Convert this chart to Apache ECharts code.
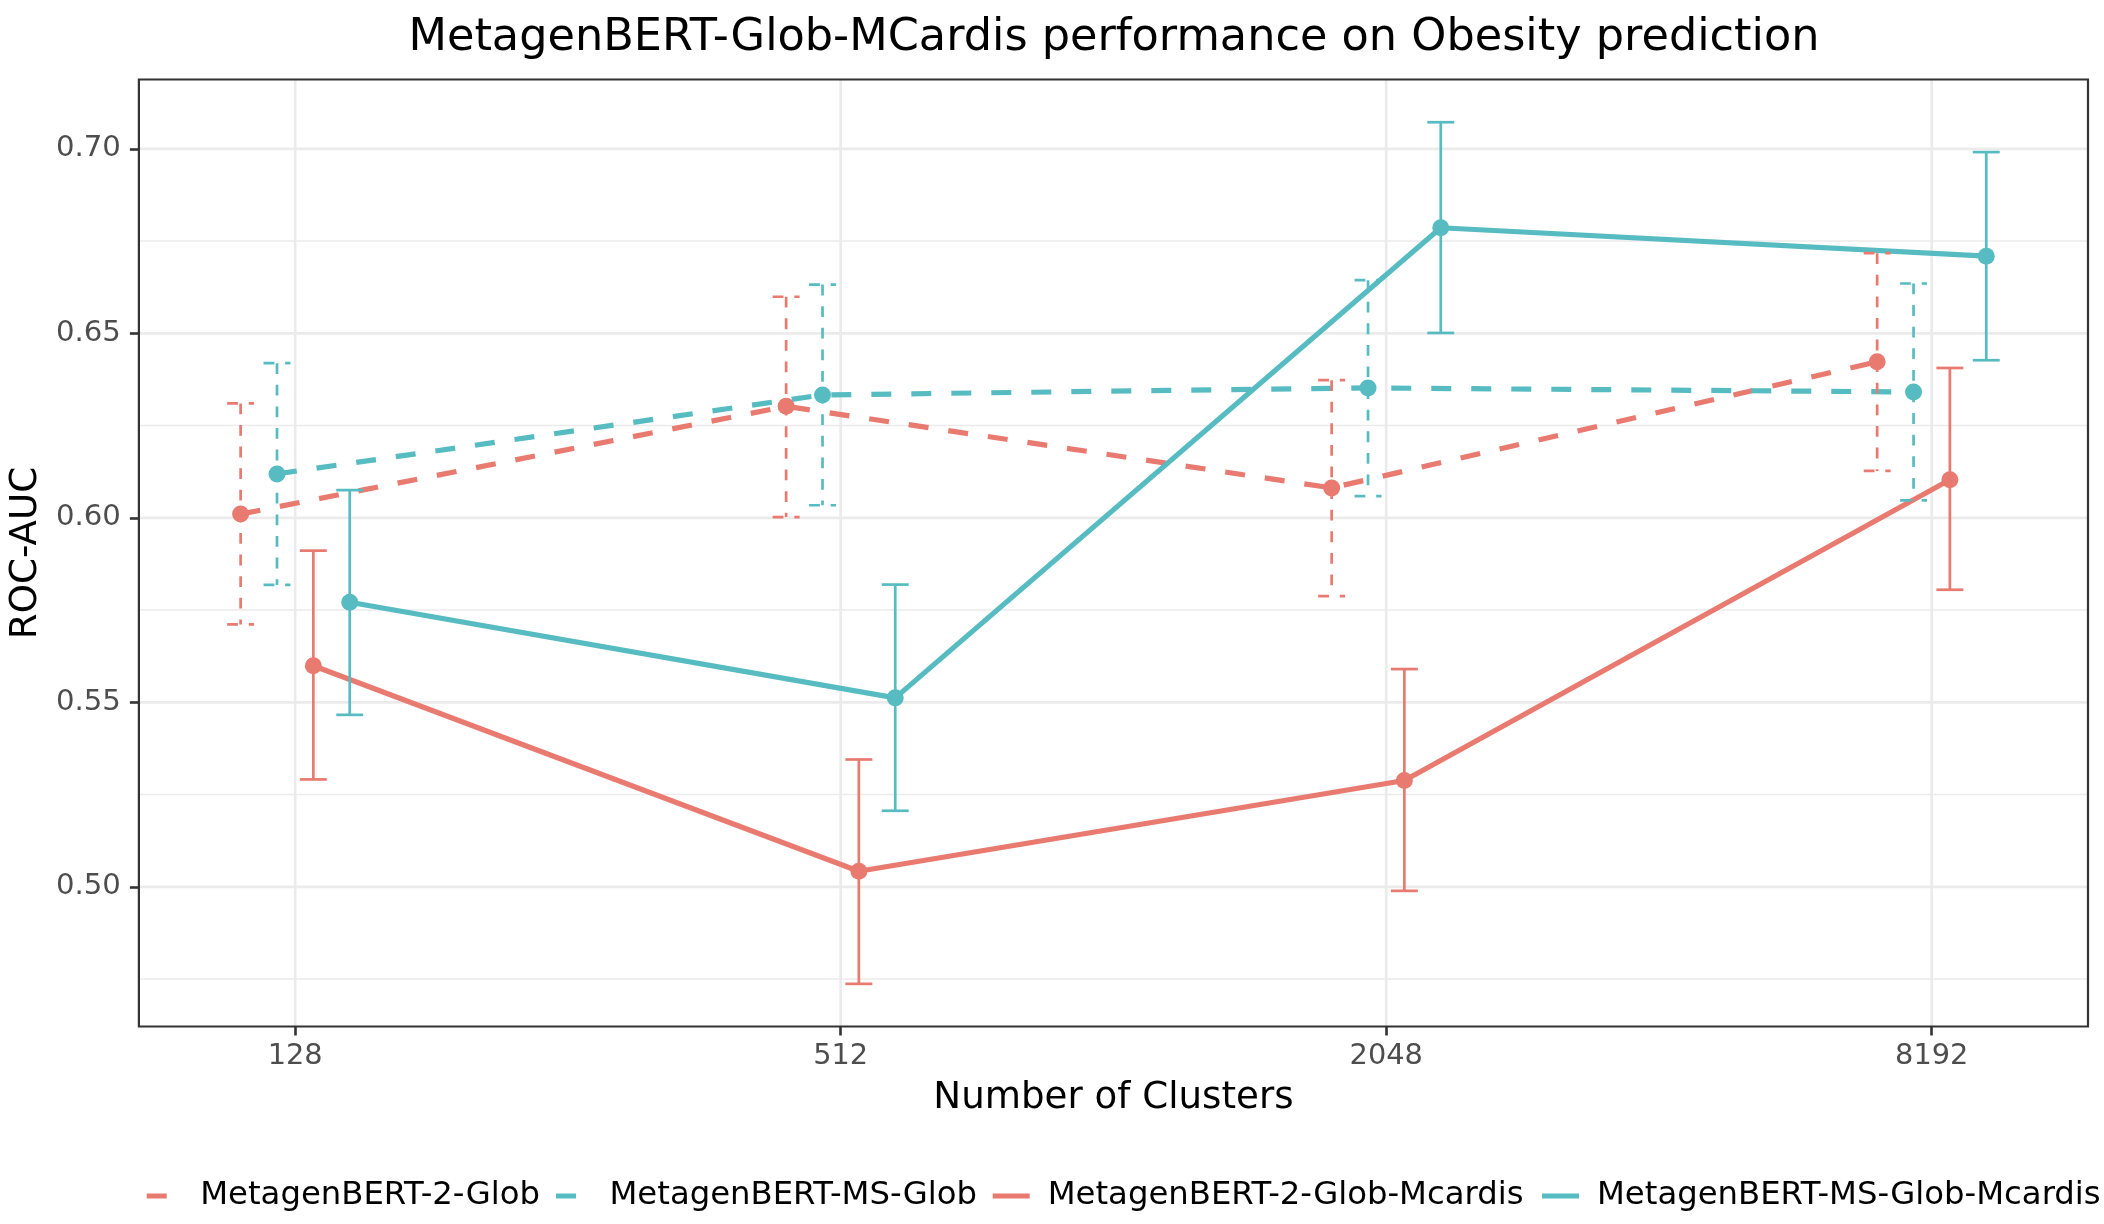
<!DOCTYPE html>
<html>
<head>
<meta charset="utf-8">
<script src="https://cdn.jsdelivr.net/npm/echarts@6/dist/echarts.min.js"></script>
<style>html,body{margin:0;padding:0;background:#fff}#c{width:2104px;height:1224px}</style>
</head>
<body>
<div id="c"></div>
<script>
// ---- data ----
const categories = ['128', '512', '2048', '8192'];
const seriesNames = ['MetagenBERT-2-Glob', 'MetagenBERT-MS-Glob', 'MetagenBERT-2-Glob-Mcardis', 'MetagenBERT-MS-Glob-Mcardis'];
const glob2Mean  = [0.6010, 0.6302, 0.6081, 0.6423];
const glob2Low   = [0.5711, 0.6002, 0.5788, 0.6127];
const glob2High  = [0.6310, 0.6599, 0.6373, 0.6717];
const msGlobMean = [0.6119, 0.6333, 0.6352, 0.6341];
const msGlobLow  = [0.5818, 0.6034, 0.6059, 0.6047];
const msGlobHigh = [0.6419, 0.6632, 0.6644, 0.6635];
const glob2McMean = [0.5599, 0.5042, 0.5288, 0.6103];
const glob2McLow  = [0.5291, 0.4737, 0.4989, 0.5805];
const glob2McHigh = [0.5911, 0.5345, 0.5590, 0.6406];
const msGlobMcMean = [0.5771, 0.5512, 0.6786, 0.6709];
const msGlobMcLow  = [0.5466, 0.5206, 0.6501, 0.6427];
const msGlobMcHigh = [0.6075, 0.5819, 0.7072, 0.6991];
const yTicks = [0.50, 0.55, 0.60, 0.65, 0.70];
const yMinorTicks = [0.475, 0.525, 0.575, 0.625, 0.675];

// ---- styling ----
const RED = '#E87A70';
const TEAL = '#57BCC2';
const FONT = '"DejaVu Sans", "Noto Sans", sans-serif';
const dodge = [-0.1, -0.0333, 0.0333, 0.1];
const capHalf = 0.0247;

const groups = [
  {name: seriesNames[0], mean: glob2Mean, low: glob2Low, high: glob2High, color: RED, dashed: true},
  {name: seriesNames[1], mean: msGlobMean, low: msGlobLow, high: msGlobHigh, color: TEAL, dashed: true},
  {name: seriesNames[2], mean: glob2McMean, low: glob2McLow, high: glob2McHigh, color: RED, dashed: false},
  {name: seriesNames[3], mean: msGlobMcMean, low: msGlobMcLow, high: msGlobMcHigh, color: TEAL, dashed: false}
];

const series = [];

// grid lines (drawn beneath the panel border)
const gridData = [];
yTicks.forEach(v => gridData.push([1, v, 1]));
yMinorTicks.forEach(v => gridData.push([1, v, 0]));
categories.forEach((c, i) => gridData.push([0, i, 1]));
series.push({
  type: 'custom', name: 'grid', z: -1, silent: true, animation: false,
  data: gridData,
  renderItem: function (params, api) {
    const isY = api.value(0) === 1, v = api.value(1), major = api.value(2) === 1;
    const cs = params.coordSys;
    let p1, p2;
    if (isY) { const p = api.coord([0, v]); p1 = [cs.x, p[1]]; p2 = [cs.x + cs.width, p[1]]; }
    else { const p = api.coord([v, 0.6]); p1 = [p[0], cs.y]; p2 = [p[0], cs.y + cs.height]; }
    return {type: 'line', shape: {x1: p1[0], y1: p1[1], x2: p2[0], y2: p2[1]},
      style: {stroke: '#EBEBEB', lineWidth: major ? 2.7 : 1.35}};
  }
});

groups.forEach((g, gi) => {
  series.push({
    type: 'line', name: g.name, z: 3, animation: false, silent: true,
    data: g.mean.map((m, i) => [i + dodge[gi], m]),
    symbol: 'circle', symbolSize: 17, showSymbol: true,
    itemStyle: {color: g.color, borderWidth: 0},
    lineStyle: {color: g.color, width: 5.2, type: g.dashed ? [20, 20] : 'solid', cap: 'butt'},
    emphasis: {disabled: true}
  });
});

groups.forEach((g, gi) => {
  series.push({
    type: 'custom', name: g.name + ' (error)', z: 4, animation: false, silent: true,
    data: g.mean.map((m, i) => [i + dodge[gi], g.low[i], g.high[i]]),
    encode: {x: 0, y: [1, 2]},
    renderItem: function (params, api) {
      const x = api.value(0), lo = api.value(1), hi = api.value(2);
      const tl = api.coord([x - capHalf, hi]), tr = api.coord([x + capHalf, hi]);
      const t = api.coord([x, hi]), b = api.coord([x, lo]);
      const bl = api.coord([x - capHalf, lo]), br = api.coord([x + capHalf, lo]);
      const st = {stroke: g.color, lineWidth: 2.7, lineDash: g.dashed ? [10.8, 10.8] : null, lineCap: 'butt'};
      return {type: 'group', children: [
        {type: 'line', shape: {x1: tl[0], y1: tl[1], x2: tr[0], y2: tr[1]}, style: st},
        {type: 'line', shape: {x1: t[0], y1: t[1], x2: b[0], y2: b[1]}, style: st},
        {type: 'line', shape: {x1: bl[0], y1: bl[1], x2: br[0], y2: br[1]}, style: st}
      ]};
    }
  });
});

function legendFor(g, left, width, pad) {
  return {
    data: [{name: g.name, icon: 'rect', itemStyle: {color: g.color, borderWidth: 0}}],
    left: left, top: 1180, orient: 'horizontal', padding: 0,
    itemWidth: width, itemHeight: 5, selectedMode: false,
    textStyle: {fontFamily: FONT, fontSize: 32.3, color: '#000', lineHeight: 32, padding: [0, 0, 0, pad]}
  };
}

const option = {
  backgroundColor: '#fff',
  animation: false,
  graphic: [{
    type: 'text', x: 1114, y: 38.7, silent: true,
    style: {text: 'MetagenBERT-Glob-MCardis performance on Obesity prediction',
      fontFamily: FONT, fontSize: 44.6, fill: '#000', align: 'center', verticalAlign: 'middle'}
  }],
  grid: {left: 138.5, right: 16, top: 79.5, bottom: 197.5, show: true,
    borderColor: '#333333', borderWidth: 2.2, backgroundColor: 'transparent', containLabel: false},
  xAxis: {
    type: 'value', min: -0.2865, max: 3.2865,
    name: 'Number of Clusters', nameLocation: 'middle', nameGap: 53,
    nameTextStyle: {fontFamily: FONT, fontSize: 37.2, color: '#000'},
    axisLine: {show: false, onZero: false},
    axisTick: {show: true, length: 9, customValues: [0, 1, 2, 3], lineStyle: {color: '#333333', width: 2.6}},
    axisLabel: {customValues: [0, 1, 2, 3], formatter: v => categories[Math.round(v)],
      fontFamily: FONT, fontSize: 28.8, color: '#4D4D4D', margin: 16},
    splitLine: {show: false}
  },
  yAxis: {
    type: 'value', min: 0.46214, max: 0.71878,
    name: 'ROC-AUC', nameLocation: 'middle', nameGap: 89, nameRotate: 90,
    nameTextStyle: {fontFamily: FONT, fontSize: 37.2, color: '#000'},
    axisLine: {show: false, onZero: false},
    axisTick: {show: true, length: 9, customValues: yTicks, lineStyle: {color: '#333333', width: 2.6}},
    axisLabel: {customValues: yTicks, formatter: v => v.toFixed(2),
      fontFamily: FONT, fontSize: 29.2, color: '#4D4D4D', margin: 18},
    splitLine: {show: false}
  },
  legend: [
    legendFor(groups[0], 146.7, 20, 28.5),
    legendFor(groups[1], 556, 20, 28.5),
    legendFor(groups[2], 992.7, 37, 13),
    legendFor(groups[3], 1542, 37, 13)
  ],
  series: series
};

const chart = echarts.init(document.getElementById('c'), null, {renderer: 'canvas'});
chart.setOption(option);
</script>
</body>
</html>
